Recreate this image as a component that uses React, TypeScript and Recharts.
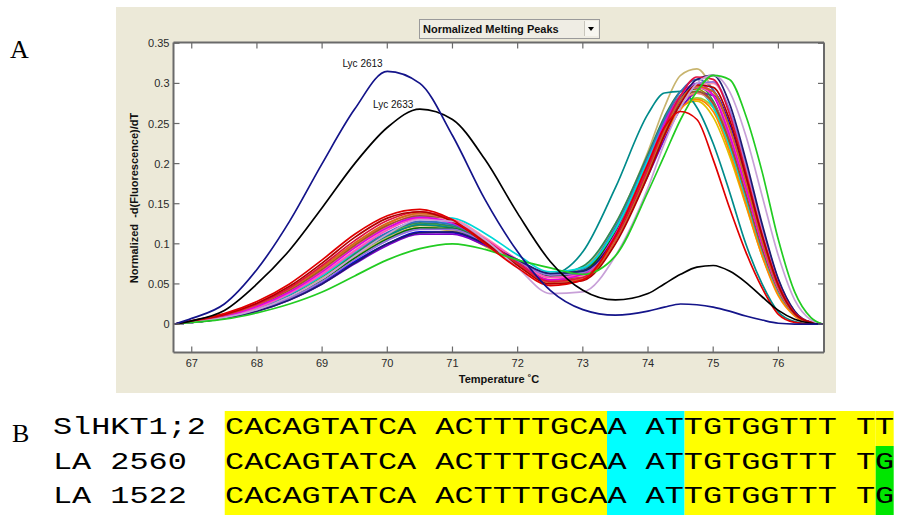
import React from 'react';
import { LineChart, Line, XAxis, YAxis, CartesianGrid, ReferenceDot } from 'recharts';

// ---------- data ----------
const temperature = [66.74, 67.0, 67.5, 68.0, 68.5, 69.0, 69.5, 70.0, 70.5, 71.0, 71.5, 72.0, 72.5, 73.0, 73.5, 74.0, 74.25, 74.5, 74.75, 75.0, 75.25, 75.5, 75.75, 76.0, 76.25, 76.5, 76.68];

const lyc2613 = [0, 0.007, 0.025, 0.068, 0.128, 0.2, 0.268, 0.315, 0.3, 0.235, 0.155, 0.09, 0.042, 0.018, 0.011, 0.016, 0.021, 0.025, 0.024, 0.021, 0.016, 0.01, 0.005, 0.001, 0, 0, 0];
const lyc2633 = [0, 0.004, 0.017, 0.05, 0.092, 0.145, 0.2, 0.245, 0.268, 0.255, 0.205, 0.138, 0.078, 0.042, 0.03, 0.038, 0.05, 0.062, 0.071, 0.073, 0.066, 0.052, 0.034, 0.017, 0.006, 0.001, 0];

const redCurve = [0, 0.004, 0.013, 0.028, 0.05, 0.08, 0.112, 0.135, 0.143, 0.13, 0.1, 0.07, 0.048, 0.055, 0.11, 0.2, 0.245, 0.265, 0.255, 0.205, 0.145, 0.09, 0.045, 0.012, 0.002, 0, 0];
const greenCurve = [0, 0.002, 0.006, 0.014, 0.025, 0.04, 0.06, 0.08, 0.094, 0.1, 0.093, 0.08, 0.07, 0.062, 0.085, 0.165, 0.21, 0.255, 0.29, 0.31, 0.305, 0.26, 0.19, 0.105, 0.04, 0.008, 0];
const tealCurve = [0, 0.002, 0.009, 0.02, 0.036, 0.06, 0.087, 0.11, 0.124, 0.12, 0.1, 0.078, 0.062, 0.09, 0.17, 0.262, 0.288, 0.29, 0.27, 0.225, 0.165, 0.1, 0.05, 0.015, 0.003, 0, 0];
const lavenderCurve = [0, 0.002, 0.008, 0.018, 0.034, 0.056, 0.085, 0.112, 0.13, 0.128, 0.105, 0.07, 0.038, 0.04, 0.085, 0.17, 0.225, 0.27, 0.3, 0.31, 0.29, 0.235, 0.16, 0.085, 0.03, 0.005, 0];
const khakiCurve = [0, 0.002, 0.008, 0.019, 0.035, 0.057, 0.084, 0.108, 0.12, 0.117, 0.098, 0.075, 0.06, 0.07, 0.125, 0.215, 0.27, 0.31, 0.318, 0.29, 0.23, 0.16, 0.09, 0.04, 0.012, 0.002, 0];
const blueCurve = [0, 0.002, 0.008, 0.018, 0.032, 0.052, 0.078, 0.1, 0.115, 0.114, 0.1, 0.08, 0.062, 0.066, 0.11, 0.19, 0.238, 0.275, 0.295, 0.29, 0.25, 0.185, 0.11, 0.05, 0.015, 0.002, 0];
const magentaCurve = [0, 0.003, 0.01, 0.022, 0.04, 0.065, 0.095, 0.12, 0.133, 0.126, 0.103, 0.076, 0.055, 0.062, 0.112, 0.2, 0.25, 0.285, 0.3, 0.285, 0.235, 0.17, 0.1, 0.045, 0.013, 0.002, 0];
const orangeCurve = [0, 0.003, 0.011, 0.024, 0.043, 0.07, 0.1, 0.125, 0.138, 0.128, 0.104, 0.075, 0.053, 0.06, 0.108, 0.19, 0.235, 0.268, 0.28, 0.265, 0.215, 0.15, 0.085, 0.035, 0.01, 0.001, 0];
const cyanCurve = [0, 0.002, 0.009, 0.02, 0.037, 0.06, 0.09, 0.118, 0.134, 0.132, 0.113, 0.086, 0.065, 0.07, 0.118, 0.205, 0.25, 0.282, 0.29, 0.27, 0.22, 0.155, 0.09, 0.04, 0.012, 0.002, 0];
const purpleCurve = [0, 0.002, 0.007, 0.016, 0.03, 0.05, 0.075, 0.098, 0.112, 0.112, 0.098, 0.078, 0.06, 0.062, 0.105, 0.185, 0.23, 0.268, 0.288, 0.285, 0.245, 0.18, 0.108, 0.048, 0.014, 0.002, 0];
const darkRedCurve = [0, 0.004, 0.012, 0.026, 0.047, 0.076, 0.108, 0.132, 0.14, 0.128, 0.102, 0.073, 0.05, 0.054, 0.1, 0.185, 0.235, 0.275, 0.298, 0.295, 0.255, 0.185, 0.11, 0.048, 0.013, 0.002, 0];
const oliveCurve = [0, 0.002, 0.008, 0.019, 0.035, 0.058, 0.086, 0.11, 0.123, 0.12, 0.1, 0.077, 0.06, 0.068, 0.118, 0.205, 0.252, 0.285, 0.293, 0.275, 0.225, 0.16, 0.092, 0.04, 0.012, 0.002, 0];
const pinkCurve = [0, 0.002, 0.009, 0.021, 0.039, 0.063, 0.092, 0.118, 0.132, 0.13, 0.108, 0.08, 0.058, 0.06, 0.105, 0.19, 0.24, 0.278, 0.298, 0.3, 0.265, 0.195, 0.118, 0.052, 0.016, 0.002, 0];
const brownCurve = [0, 0.003, 0.01, 0.023, 0.042, 0.068, 0.098, 0.123, 0.135, 0.127, 0.104, 0.077, 0.055, 0.06, 0.11, 0.195, 0.242, 0.278, 0.29, 0.275, 0.228, 0.162, 0.094, 0.042, 0.012, 0.002, 0];
const darkGreenCurve = [0, 0.002, 0.008, 0.018, 0.033, 0.055, 0.082, 0.106, 0.12, 0.119, 0.101, 0.078, 0.06, 0.066, 0.114, 0.198, 0.245, 0.28, 0.295, 0.285, 0.24, 0.172, 0.1, 0.045, 0.013, 0.002, 0];
const goldCurve = [0, 0.002, 0.008, 0.018, 0.034, 0.056, 0.083, 0.107, 0.12, 0.116, 0.097, 0.075, 0.058, 0.066, 0.118, 0.2, 0.245, 0.272, 0.278, 0.258, 0.21, 0.148, 0.085, 0.038, 0.011, 0.002, 0];
const steelCurve = [0, 0.002, 0.009, 0.02, 0.037, 0.061, 0.09, 0.114, 0.128, 0.124, 0.104, 0.079, 0.06, 0.068, 0.12, 0.208, 0.255, 0.29, 0.305, 0.292, 0.245, 0.175, 0.102, 0.046, 0.014, 0.002, 0];
const salmonCurve = [0, 0.003, 0.01, 0.022, 0.04, 0.066, 0.096, 0.122, 0.136, 0.13, 0.107, 0.078, 0.055, 0.058, 0.105, 0.19, 0.238, 0.275, 0.288, 0.275, 0.23, 0.165, 0.095, 0.042, 0.012, 0.002, 0];
const limeCurve = [0, 0.002, 0.008, 0.019, 0.035, 0.058, 0.086, 0.111, 0.125, 0.122, 0.102, 0.078, 0.06, 0.066, 0.112, 0.195, 0.24, 0.272, 0.282, 0.27, 0.225, 0.16, 0.092, 0.04, 0.012, 0.002, 0];
const chocolateCurve = [0, 0.003, 0.011, 0.024, 0.044, 0.071, 0.101, 0.126, 0.138, 0.129, 0.104, 0.075, 0.052, 0.056, 0.104, 0.19, 0.24, 0.28, 0.296, 0.29, 0.245, 0.178, 0.104, 0.046, 0.013, 0.002, 0];
const violetCurve = [0, 0.002, 0.008, 0.017, 0.032, 0.053, 0.08, 0.104, 0.118, 0.118, 0.101, 0.079, 0.061, 0.064, 0.108, 0.19, 0.238, 0.278, 0.3, 0.302, 0.268, 0.2, 0.122, 0.055, 0.016, 0.002, 0];
const crimsonCurve = [0, 0.003, 0.011, 0.025, 0.045, 0.073, 0.104, 0.129, 0.14, 0.13, 0.105, 0.076, 0.053, 0.058, 0.108, 0.195, 0.245, 0.285, 0.308, 0.305, 0.262, 0.19, 0.112, 0.05, 0.014, 0.002, 0];
const seaGreenCurve = [0, 0.002, 0.009, 0.02, 0.037, 0.06, 0.088, 0.113, 0.126, 0.122, 0.102, 0.078, 0.061, 0.072, 0.125, 0.212, 0.258, 0.29, 0.298, 0.278, 0.228, 0.162, 0.093, 0.041, 0.012, 0.002, 0];
const hotPinkCurve = [0, 0.002, 0.009, 0.02, 0.038, 0.062, 0.091, 0.117, 0.131, 0.127, 0.106, 0.08, 0.058, 0.062, 0.11, 0.195, 0.243, 0.28, 0.295, 0.285, 0.24, 0.172, 0.1, 0.044, 0.013, 0.002, 0];
const inkCurve = [0, 0.002, 0.007, 0.016, 0.03, 0.05, 0.076, 0.1, 0.114, 0.115, 0.1, 0.08, 0.063, 0.066, 0.108, 0.19, 0.24, 0.28, 0.305, 0.31, 0.275, 0.205, 0.125, 0.056, 0.016, 0.002, 0];
const skyCurve = [0, 0.002, 0.008, 0.019, 0.035, 0.058, 0.087, 0.113, 0.128, 0.126, 0.106, 0.08, 0.061, 0.07, 0.122, 0.208, 0.252, 0.282, 0.29, 0.272, 0.222, 0.158, 0.09, 0.04, 0.012, 0.002, 0];

const xTicks = [67, 68, 69, 70, 71, 72, 73, 74, 75, 76];
const yTicks = [0, 0.05, 0.1, 0.15, 0.2, 0.25, 0.3, 0.35];

const seqLabels = ['SlHKT1;2 ', 'LA 2560  ', 'LA 1522  '];
const seqLastBase = ['T', 'G', 'G'];

// ---------- series table ----------
const clusterSeries = [
  { key: 'gold', values: goldCurve, color: '#e2c000' },
  { key: 'sky', values: skyCurve, color: '#5aa0ff' },
  { key: 'lime', values: limeCurve, color: '#9acd32' },
  { key: 'olive', values: oliveCurve, color: '#8f8f00' },
  { key: 'khaki', values: khakiCurve, color: '#c8b46e' },
  { key: 'teal', values: tealCurve, color: '#008b8b' },
  { key: 'blue', values: blueCurve, color: '#0000e8' },
  { key: 'purple', values: purpleCurve, color: '#7a00c8' },
  { key: 'seaGreen', values: seaGreenCurve, color: '#2e8b57' },
  { key: 'steel', values: steelCurve, color: '#3070c0' },
  { key: 'darkGreen', values: darkGreenCurve, color: '#007000' },
  { key: 'cyan', values: cyanCurve, color: '#00d8d8' },
  { key: 'orange', values: orangeCurve, color: '#ff8800' },
  { key: 'salmon', values: salmonCurve, color: '#f08070' },
  { key: 'brown', values: brownCurve, color: '#a0522d' },
  { key: 'pink', values: pinkCurve, color: '#ff8cb0' },
  { key: 'hotPink', values: hotPinkCurve, color: '#ff50c0' },
  { key: 'magenta', values: magentaCurve, color: '#e000e0' },
  { key: 'violet', values: violetCurve, color: '#9370db' },
  { key: 'ink', values: inkCurve, color: '#1c1c70' },
  { key: 'chocolate', values: chocolateCurve, color: '#d2691e' },
  { key: 'crimson', values: crimsonCurve, color: '#e01040' },
  { key: 'darkRed', values: darkRedCurve, color: '#b00000' },
  { key: 'lavender', values: lavenderCurve, color: '#c8a0d8' },
  { key: 'green', values: greenCurve, color: '#22cc22' },
  { key: 'red', values: redCurve, color: '#e00000' },
];
const labelledSeries = [
  { key: 'lyc2633', values: lyc2633, color: '#000000' },
  { key: 'lyc2613', values: lyc2613, color: '#14148a' },
];
const allSeries = [...clusterSeries, ...labelledSeries];

const chartData = temperature.map((t, i) => {
  const row: Record<string, number> = { t };
  allSeries.forEach((s) => {
    row[s.key] = s.values[i];
  });
  return row;
});

// ---------- styling ----------
const AXIS = '#6a6a6a';
const TICK_TEXT = '#2a2a2a';
const SANS = "'Liberation Sans', Arial, sans-serif";
const X_DOMAIN: [number, number] = [66.72, 76.7];
const Y_DOMAIN: [number, number] = [-0.0355, 0.351];

const BottomTick = (props: any) => {
  const { x, y, payload } = props;
  return (
    <g>
      <line x1={x} x2={x} y1={y} y2={y - 6} stroke={AXIS} strokeWidth={1.2} />
      <text x={x} y={y + 14.5} textAnchor="middle" fontSize={11} fontFamily={SANS} fill={TICK_TEXT}>
        {payload.value}
      </text>
    </g>
  );
};
const TopTick = (props: any) => {
  const { x, y } = props;
  return <line x1={x} x2={x} y1={y} y2={y + 6} stroke={AXIS} strokeWidth={1.2} />;
};
const LeftTick = (props: any) => {
  const { x, y, payload } = props;
  return (
    <g>
      <line x1={x} x2={x + 6} y1={y} y2={y} stroke={AXIS} strokeWidth={1.2} />
      <text x={x - 4} y={y + 4} textAnchor="end" fontSize={11} fontFamily={SANS} fill={TICK_TEXT}>
        {payload.value}
      </text>
    </g>
  );
};
const RightTick = (props: any) => {
  const { x, y } = props;
  return <line x1={x} x2={x - 6} y1={y} y2={y} stroke={AXIS} strokeWidth={1.2} />;
};

const seqCell = (text: string, bg?: string) => (
  <span
    style={{
      display: 'inline-block',
      height: 34.5,
      lineHeight: '34.5px',
      background: bg || 'transparent',
      whiteSpace: 'pre',
      verticalAlign: 'top',
    }}
  >
    {text}
  </span>
);

export default function App() {
  return (
    <div
      style={{
        position: 'absolute',
        left: 0,
        top: 0,
        width: 900,
        height: 517,
        overflow: 'hidden',
        background: '#ffffff',
      }}
    >
      {/* panel label A */}
      <div
        style={{
          position: 'absolute',
          left: 10,
          top: 37,
          fontFamily: "'Liberation Serif', 'Times New Roman', serif",
          fontSize: 26,
          lineHeight: '26px',
          color: '#000',
        }}
      >
        A
      </div>

      {/* beige MATLAB-style panel */}
      <div
        style={{
          position: 'absolute',
          left: 116,
          top: 7,
          width: 720,
          height: 386,
          background: '#ece9d8',
        }}
      />

      {/* dropdown */}
      <div
        style={{
          position: 'absolute',
          left: 419,
          top: 19,
          width: 176,
          height: 18,
          border: '1px solid #9a9a9a',
          background: '#efede4',
          fontFamily: SANS,
          fontWeight: 'bold',
          fontSize: 11,
          lineHeight: '18px',
          color: '#111',
          paddingLeft: 3,
          boxSizing: 'content-box',
        }}
      >
        Normalized Melting Peaks
        <div
          style={{
            position: 'absolute',
            right: 1,
            top: 1,
            width: 13,
            height: 15,
            background: '#f7f6f0',
            borderLeft: '1px solid #c8c6bc',
          }}
        >
          <div
            style={{
              position: 'absolute',
              left: 3,
              top: 6,
              width: 0,
              height: 0,
              borderLeft: '3.5px solid transparent',
              borderRight: '3.5px solid transparent',
              borderTop: '4px solid #000',
            }}
          />
        </div>
      </div>

      {/* chart */}
      <div style={{ position: 'absolute', left: 0, top: 0 }}>
        <LineChart
          width={900}
          height={400}
          data={chartData}
          margin={{ top: 41.5, right: 75, bottom: 46.5, left: 172.5 }}
        >
          <CartesianGrid fill="#ffffff" horizontal={false} vertical={false} xAxisId="b" yAxisId="l" />
          <XAxis
            xAxisId="b"
            dataKey="t"
            type="number"
            domain={X_DOMAIN}
            ticks={xTicks}
            interval={0}
            height={1}
            tickSize={0}
            tickMargin={0}
            tickLine={false}
            tick={BottomTick}
            axisLine={{ stroke: AXIS, strokeWidth: 2 }}
            allowDataOverflow
          />
          <XAxis
            xAxisId="t"
            orientation="top"
            dataKey="t"
            type="number"
            domain={X_DOMAIN}
            ticks={xTicks}
            interval={0}
            height={1}
            tickSize={0}
            tickMargin={0}
            tickLine={false}
            tick={TopTick}
            axisLine={{ stroke: AXIS, strokeWidth: 2 }}
            allowDataOverflow
          />
          <YAxis
            yAxisId="l"
            type="number"
            domain={Y_DOMAIN}
            ticks={yTicks}
            interval={0}
            width={1}
            tickSize={0}
            tickMargin={0}
            tickLine={false}
            tick={LeftTick}
            axisLine={{ stroke: AXIS, strokeWidth: 2 }}
            allowDataOverflow
          />
          <YAxis
            yAxisId="r"
            orientation="right"
            type="number"
            domain={Y_DOMAIN}
            ticks={yTicks}
            interval={0}
            width={1}
            tickSize={0}
            tickMargin={0}
            tickLine={false}
            tick={RightTick}
            axisLine={{ stroke: AXIS, strokeWidth: 2 }}
            allowDataOverflow
          />
          {allSeries.map((s) => (
            <Line
              key={s.key}
              xAxisId="b"
              yAxisId="l"
              dataKey={s.key}
              type="monotone"
              stroke={s.color}
              strokeWidth={1.7}
              dot={false}
              activeDot={false}
              isAnimationActive={false}
            />
          ))}
          <ReferenceDot
            xAxisId="b"
            yAxisId="l"
            x={69.62}
            y={0.325}
            r={1}
            fill="none"
            stroke="none"
            label={{ value: 'Lyc 2613', position: 'center', fontSize: 10, fill: '#111', fontFamily: SANS }}
          />
          <ReferenceDot
            xAxisId="b"
            yAxisId="l"
            x={70.09}
            y={0.274}
            r={1}
            fill="none"
            stroke="none"
            label={{ value: 'Lyc 2633', position: 'center', fontSize: 10, fill: '#111', fontFamily: SANS }}
          />
        </LineChart>
      </div>

      {/* axis titles */}
      <div
        style={{
          position: 'absolute',
          left: 134,
          top: 198,
          transform: 'translate(-50%, -50%) rotate(-90deg)',
          whiteSpace: 'pre',
          fontFamily: SANS,
          fontWeight: 'bold',
          fontSize: 11,
          color: '#111',
        }}
      >
        {'Normalized  -d(Fluorescence)/dT'}
      </div>
      <div
        style={{
          position: 'absolute',
          left: 499,
          top: 379,
          transform: 'translate(-50%, -50%)',
          whiteSpace: 'pre',
          fontFamily: SANS,
          fontWeight: 'bold',
          fontSize: 11,
          color: '#111',
        }}
      >
        {'Temperature \u02DAC'}
      </div>

      {/* panel label B */}
      <div
        style={{
          position: 'absolute',
          left: 12,
          top: 421,
          fontFamily: "'Liberation Serif', 'Times New Roman', serif",
          fontSize: 26,
          lineHeight: '26px',
          color: '#000',
        }}
      >
        B
      </div>

      {/* sequence alignment */}
      {seqLabels.map((lab, i) => (
        <div
          key={lab}
          style={{
            position: 'absolute',
            left: 53,
            top: 411 + i * 34.5,
            height: 34.5,
            whiteSpace: 'pre',
            fontFamily: "'Liberation Mono', 'Courier New', monospace",
            fontSize: 23,
            color: '#000',
            transform: 'scaleX(1.385)',
            transformOrigin: '0 0',
          }}
        >
          {seqCell(lab)}
          {seqCell('CACAGTATCA ACTTTTGCA', '#ffff00')}
          {seqCell('A AT', '#00ffff')}
          {seqCell('TGTGGTTT T', '#ffff00')}
          {seqCell(seqLastBase[i], i === 0 ? '#ffff00' : '#00e600')}
        </div>
      ))}
    </div>
  );
}
